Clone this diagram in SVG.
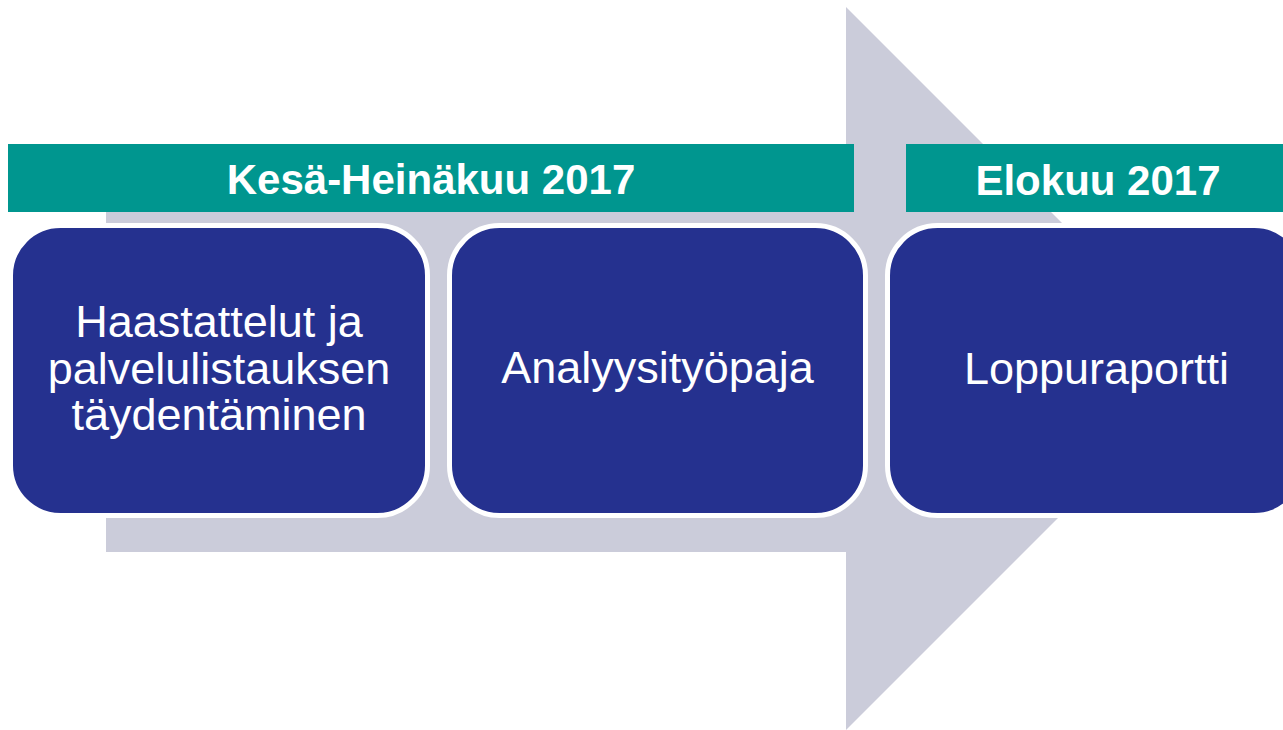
<svg xmlns="http://www.w3.org/2000/svg" width="1283" height="730" viewBox="0 0 1283 730">
<style>
.bar{fill:#00968F}
.box{fill:#25318F;stroke:#FFFFFF;stroke-width:5}
.hd{font-family:"Liberation Sans",Arial,sans-serif;font-weight:bold;font-size:42px;fill:#FFFFFF;text-anchor:middle}
.tx{font-family:"Liberation Sans",Arial,sans-serif;font-size:45px;fill:#FFFFFF;text-anchor:middle}
</style>
<rect width="1283" height="730" fill="#FFFFFF"/>
<g id="arrow">
<polygon points="106,185 846,185 846,7 1207.5,368.5 846,730 846,552 106,552" fill="#CBCCDA"/>
</g>
<g id="header-kesa">
<rect class="bar" x="8" y="144" width="846" height="68"/>
<text class="hd" x="431" y="194">Kesä-Heinäkuu 2017</text>
</g>
<g id="header-elokuu">
<rect class="bar" x="906" y="144" width="390" height="68"/>
<text class="hd" x="1098" y="195">Elokuu 2017</text>
</g>
<g id="node-haastattelut">
<rect class="box" x="10.5" y="225.5" width="417" height="290" rx="50" ry="50"/>
<text class="tx" x="219" y="337">Haastattelut ja</text>
<text class="tx" x="219" y="383.5">palvelulistauksen</text>
<text class="tx" x="219" y="430">täydentäminen</text>
</g>
<g id="node-analyysi">
<rect class="box" x="449.5" y="225.5" width="416" height="290" rx="50" ry="50"/>
<text class="tx" x="657.5" y="383">Analyysityöpaja</text>
</g>
<g id="node-loppuraportti">
<rect class="box" x="887.5" y="225.5" width="417" height="290" rx="50" ry="50"/>
<text class="tx" x="1096.5" y="384">Loppuraportti</text>
</g>
<g id="connectors"></g>
</svg>
